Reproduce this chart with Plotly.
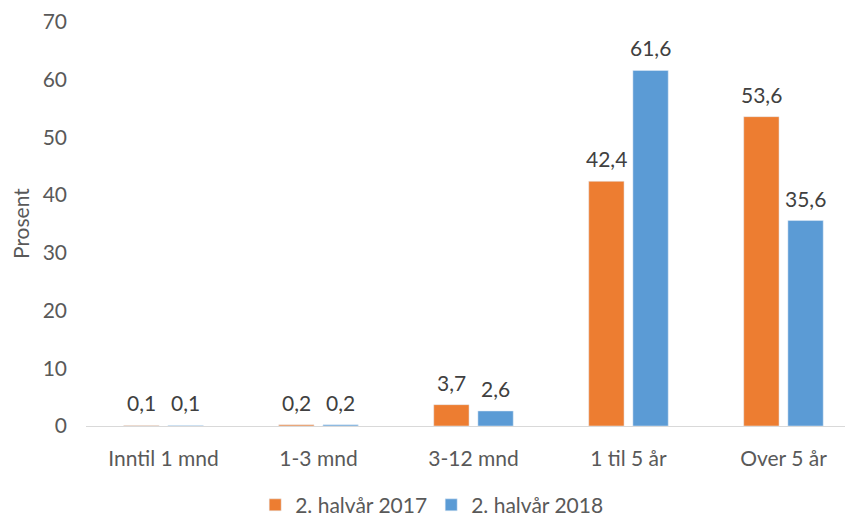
import plotly.graph_objects as go

# Varighet (kategorier) og andel i prosent per periode
categories = ["Inntil 1 mnd", "1-3 mnd", "3-12 mnd", "1 til 5 år", "Over 5 år"]
series_2017 = [0.1, 0.2, 3.7, 42.4, 53.6]
series_2018 = [0.1, 0.2, 2.6, 61.6, 35.6]
y_ticks = [0, 10, 20, 30, 40, 50, 60, 70]
y_title = "Prosent"

FONT = "Lato, Calibri, sans-serif"
TXT = "#595959"
FS = 21


def fmt(v):
    return f"{v:.1f}".replace(".", ",")


fig = go.Figure()
fig.add_trace(go.Bar(name="2. halvår 2017", x=categories, y=series_2017,
                     marker_color="#ED7D31"))
fig.add_trace(go.Bar(name="2. halvår 2018", x=categories, y=series_2018,
                     marker_color="#5B9BD5"))

# Verdietiketter over hver stolpe
for series, dx in ((series_2017, -22), (series_2018, 22)):
    for cat, v in zip(categories, series):
        fig.add_annotation(x=cat, y=v, text=fmt(v), showarrow=False,
                           xanchor="center", yanchor="bottom",
                           xshift=dx, yshift=8,
                           font=dict(size=FS, color="#404040", family=FONT))

# Aksetittel for y-aksen
fig.add_annotation(xref="paper", yref="paper", x=0, y=0.5, xshift=-66,
                   text=y_title, textangle=-90, showarrow=False,
                   xanchor="center", yanchor="middle",
                   font=dict(size=FS, color=TXT, family=FONT))

fig.update_layout(
    width=845, height=516,
    margin=dict(l=86, r=0, t=22, b=90, autoexpand=False),
    paper_bgcolor="white", plot_bgcolor="white",
    barmode="group", bargap=0.43, bargroupgap=0.2,
    font=dict(family=FONT, size=FS, color=TXT),
    showlegend=True,
    legend=dict(orientation="h", xref="container", yref="paper",
                x=0.302, xanchor="left", y=-0.196, yanchor="middle",
                font=dict(size=FS, color=TXT),
                entrywidth=131, entrywidthmode="pixels",
                itemwidth=30, traceorder="normal"),
)
fig.update_xaxes(
    range=[-0.5, 4.397], showline=True, linecolor="#D9D9D9", linewidth=1,
    showgrid=False, ticks="", ticklabelstandoff=14,
    tickfont=dict(size=FS, color=TXT),
)
fig.update_yaxes(
    range=[0, 70], tickvals=y_ticks, showgrid=False, zeroline=False,
    showline=False, ticks="", ticklabelstandoff=18,
    tickfont=dict(size=FS, color=TXT),
)

fig.write_html("out.html")
